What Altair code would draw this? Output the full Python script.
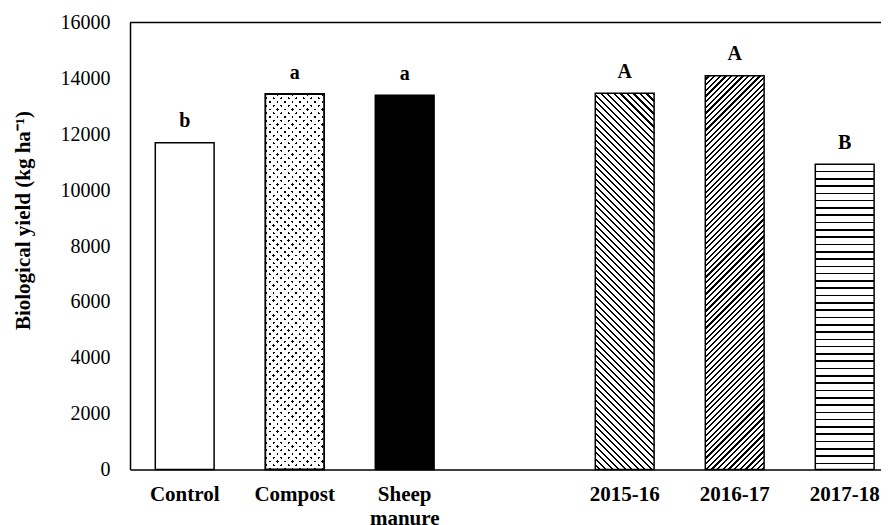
import math
import altair as alt
import pandas as pd

# ---------------- data ----------------
categories = ["Control", "Compost", "Sheep manure", "2015-16", "2016-17", "2017-18"]
values = [11700, 13440, 13400, 13470, 14090, 10930]
letters = ["b", "a", "a", "A", "A", "B"]
axis_order = ["Control", "Compost", "Sheep manure", " ", "2015-16", "2016-17", "2017-18"]
y_ticks = [0, 2000, 4000, 6000, 8000, 10000, 12000, 14000, 16000]

df = pd.DataFrame({"category": categories, "value": values, "letter": letters})

# ---------------- layout / style ----------------
W, H = 751, 447
YMAX = 16000
STEP = 110.0
BAND = 58.8
START = 25.3
N = len(axis_order)
PI = 1 - BAND / STEP
PO = ((W / STEP) - (N - PI)) / 2
AL = START / (W - STEP * (N - PI))
FONT = "Liberation Serif"
CLEAR = "rgba(255,255,255,0)"


def px_height(cat):
    return values[categories.index(cat)] / YMAX * H


def stripe_stops(total, period, line, first, line_color, bg_color):
    stops = [{"offset": 0, "color": bg_color}]
    s = first
    while s < total:
        a = round(max(s, 0) / total, 5)
        b = round(min(s + line, total) / total, 5)
        stops += [
            {"offset": a, "color": bg_color},
            {"offset": a, "color": line_color},
            {"offset": b, "color": line_color},
            {"offset": b, "color": bg_color},
        ]
        s += period
    stops.append({"offset": 1, "color": bg_color})
    return stops


def diag_gradient(cat, kind, period, line, line_color="black", bg_color="white", first=None):
    w, h = BAND, px_height(cat)
    S = w + h
    k = S / (w * w + h * h)
    p = period * math.sqrt(2)
    l = line * math.sqrt(2)
    if first is None:
        first = p / 2
    stops = stripe_stops(S, p, l, first, line_color, bg_color)
    if kind == "back":  # lines like '\'
        return {"gradient": "linear", "x1": 0, "y1": 1,
                "x2": round(w * k, 6), "y2": round(1 - h * k, 6), "stops": stops}
    return {"gradient": "linear", "x1": 0, "y1": 0,
            "x2": round(w * k, 6), "y2": round(h * k, 6), "stops": stops}


def horiz_gradient(cat, period, line):
    h = px_height(cat)
    stops = stripe_stops(h, period, line, period - line / 2, "black", "white")
    return {"gradient": "linear", "x1": 0, "y1": 0, "x2": 0, "y2": 1, "stops": stops}


x_enc = alt.X(
    "category:N",
    scale=alt.Scale(domain=axis_order, paddingInner=PI, paddingOuter=PO, align=AL, round=False),
    axis=alt.Axis(
        title=None, labelAngle=0, ticks=False, domain=True, domainColor="black",
        domainWidth=1.5, labelFont=FONT, labelFontSize=21, labelFontWeight="bold",
        labelColor="black", labelPadding=14, labelLineHeight=24,
        labelExpr="split(datum.label, ' ')",
    ),
)
y_enc = alt.Y(
    "value:Q",
    scale=alt.Scale(domain=[0, YMAX], nice=False),
    axis=alt.Axis(
        title="Biological yield (kg ha\u207b\u00b9)", values=y_ticks, format="d",
        grid=False, ticks=False, domain=True, domainColor="black", domainWidth=1.5,
        labelFont=FONT, labelFontSize=20, labelColor="black", labelPadding=20,
        titleFont=FONT, titleFontSize=21, titleFontWeight="bold", titleColor="black",
        titleAngle=270, titleBaseline="alphabetic", titleX=-101, titleY=197.5,
    ),
)

base = alt.Chart(df)


def bar(cat, **kw):
    return base.transform_filter(alt.datum.category == cat).mark_bar(**kw).encode(x=x_enc, y=y_enc)


layers = [
    bar("Control", fill="white", stroke="black", strokeWidth=1.5),
    # compost: dotted lattice (black base, two layers of white stripes with clear gaps)
    bar("Compost", fill="black", strokeWidth=0),
    bar("Compost", fill=diag_gradient("Compost", "back", 5.3, 1.8, line_color=CLEAR, bg_color="white"), strokeWidth=0),
    bar("Compost", fill=diag_gradient("Compost", "fwd", 5.3, 1.8, line_color=CLEAR, bg_color="white"), strokeWidth=0),
    bar("Compost", fill=CLEAR, stroke="black", strokeWidth=1.8),
    bar("Sheep manure", fill="black", stroke="black", strokeWidth=1.5),
    bar("2015-16", fill=diag_gradient("2015-16", "back", 4.6, 1.5), stroke="black", strokeWidth=1.5),
    bar("2016-17", fill=diag_gradient("2016-17", "fwd", 4.0, 1.5), stroke="black", strokeWidth=1.5),
    bar("2017-18", fill=horiz_gradient("2017-18", 7.3, 1.6), stroke="black", strokeWidth=1.5),
    base.mark_text(dy=-15.5, baseline="alphabetic", font=FONT, fontSize=20,
                   fontWeight="bold", color="black").encode(x=x_enc, y=y_enc, text="letter:N"),
    alt.Chart(pd.DataFrame({"k": [0]})).mark_rule(color="black", strokeWidth=1.5).encode(
        x=alt.value(0), x2=alt.value(W), y=alt.value(0)),
]

chart = alt.layer(*layers).properties(
    width=W, height=H,
    autosize=alt.AutoSizeParams(type="none"),
    padding={"left": 122, "top": 14.5, "right": 0, "bottom": 55.5},
    background="white",
).configure_view(stroke=None)

chart.save("out.html", embed_options={"renderer": "svg", "actions": False})
